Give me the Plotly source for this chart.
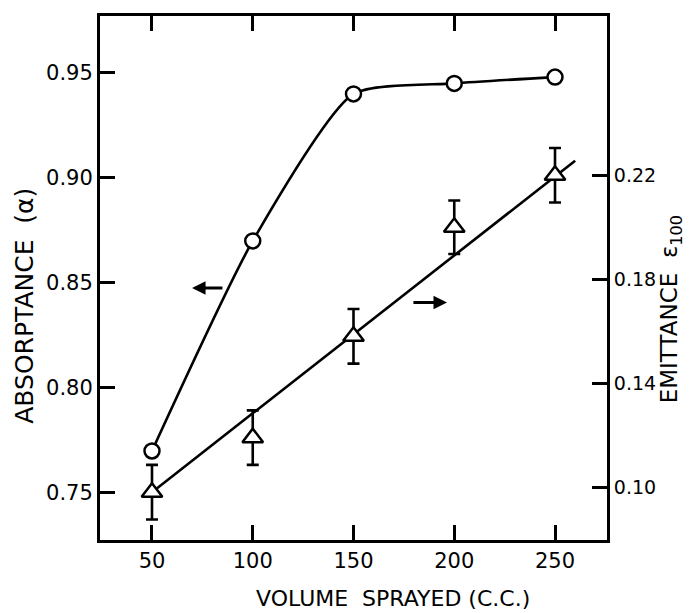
import plotly.graph_objects as go

# ---- data ----
volume = [50, 100, 150, 200, 250]
absorptance = [0.770, 0.870, 0.940, 0.945, 0.948]
emittance = [0.098, 0.119, 0.158, 0.200, 0.220]
emittance_err = [0.0105, 0.0105, 0.0105, 0.0103, 0.0105]
fit_x = [50, 260]
fit_y = [0.098, 0.2256]

x_ticks = [50, 100, 150, 200, 250]
left_ticks = [0.75, 0.80, 0.85, 0.90, 0.95]
right_ticks = [0.10, 0.14, 0.18, 0.22]

FONT = "DejaVu Sans"
LW = 2.6

fig = go.Figure()

fig.add_trace(go.Scatter(
    x=volume, y=absorptance, mode="lines+markers",
    line=dict(color="black", width=LW, shape="spline", smoothing=0.6),
    marker=dict(symbol="circle", size=15, color="white",
                line=dict(color="black", width=2.5)),
    showlegend=False, yaxis="y", cliponaxis=False))

fig.add_trace(go.Scatter(
    x=fit_x, y=fit_y, mode="lines",
    line=dict(color="black", width=LW),
    showlegend=False, yaxis="y2"))

fig.add_trace(go.Scatter(
    x=volume, y=emittance, mode="markers",
    marker=dict(symbol="triangle-up", size=18, color="white",
                line=dict(color="black", width=2.5)),
    error_y=dict(type="data", array=emittance_err, color="black",
                 thickness=2.6, width=6),
    showlegend=False, yaxis="y2", cliponaxis=False))

# direction arrows
fig.add_annotation(x=69.9, y=0.8476, ax=85.7, ay=0.8476, xref="x", yref="y",
                   axref="x", ayref="y", text="", showarrow=True,
                   arrowhead=2, arrowsize=0.9, arrowwidth=3, arrowcolor="black")
fig.add_annotation(x=196.4, y=0.171, ax=179, ay=0.171, xref="x", yref="y2",
                   axref="x", ayref="y2", text="", showarrow=True,
                   arrowhead=2, arrowsize=0.9, arrowwidth=3, arrowcolor="black")

# axis titles as annotations
fig.add_annotation(text="VOLUME  SPRAYED (C.C.)", xref="paper", yref="paper",
                   x=0.578, y=-0.112, xanchor="center", yanchor="middle",
                   showarrow=False,
                   font=dict(family=FONT, size=22, color="black"))
fig.add_annotation(text="ABSORPTANCE  (α)", xref="paper", yref="paper",
                   x=-0.148, y=0.447, xanchor="center", yanchor="middle",
                   showarrow=False, textangle=-90,
                   font=dict(family=FONT, size=25, color="black"))
fig.add_annotation(text="EMITTANCE  ε<sub>100</sub>", xref="paper", yref="paper",
                   x=1.128, y=0.44, xanchor="center", yanchor="middle",
                   showarrow=False, textangle=-90,
                   font=dict(family=FONT, size=23, color="black"))

axis_common = dict(showline=True, linecolor="black", linewidth=3,
                   ticks="inside", ticklen=15, tickwidth=2.6, tickcolor="black",
                   showgrid=False, zeroline=False)

fig.update_layout(
    width=689, height=613,
    margin=dict(l=100, r=82, t=16, b=73),
    paper_bgcolor="white", plot_bgcolor="white",
    xaxis=dict(range=[24.2, 275.8], tickvals=x_ticks, mirror="ticks",
               tickfont=dict(family=FONT, size=21, color="black"),
               **axis_common),
    yaxis=dict(range=[0.7276, 0.9771], tickvals=left_ticks,
               tickformat=".2f",
               tickfont=dict(family=FONT, size=21, color="black"),
               **axis_common),
    yaxis2=dict(range=[0.0796, 0.2813], tickvals=right_ticks,
                tickformat=".2f", overlaying="y", side="right",
                tickfont=dict(family=FONT, size=19, color="black"),
                **axis_common),
)

fig.write_html("out.html")
